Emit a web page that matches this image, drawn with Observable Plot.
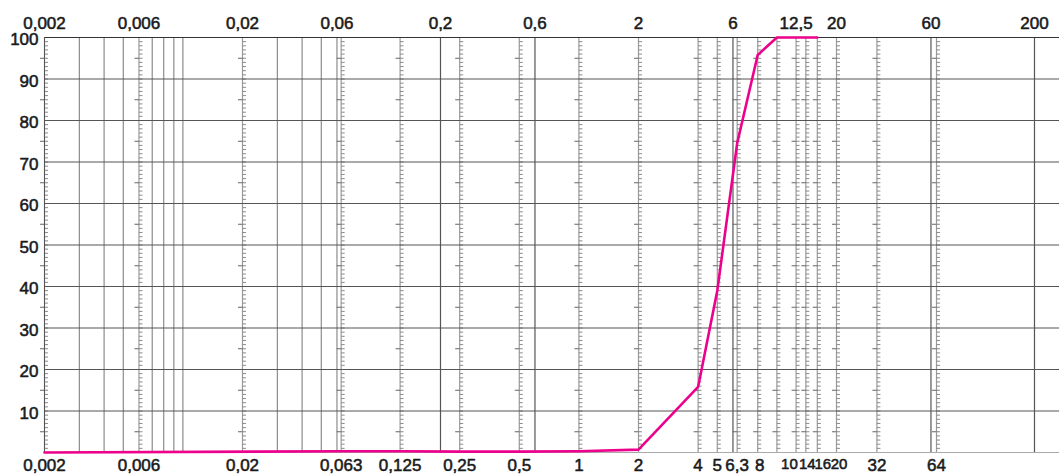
<!DOCTYPE html>
<html>
<head>
<meta charset="utf-8">
<script src="https://cdn.jsdelivr.net/npm/d3@7"></script>
<script src="https://cdn.jsdelivr.net/npm/@observablehq/plot@0.6"></script>
<style>
  html, body { margin: 0; padding: 0; background: #fff; }
  #chart svg { display: block; }
</style>
</head>
<body>
<div id="chart"></div>
<script>
// Grain size (mm) and percent passing
const sieveSizes = [0.002, 0.063, 0.125, 0.25, 0.5, 1, 2, 4, 5, 6.3, 8, 10, 12.5, 14, 16];
const passing    = [0,     0.3,   0.3,   0.2,  0.2, 0.3, 0.7, 15.8, 39, 74.5, 95.8, 100, 100, 100, 100];

// Vertical ruler lines (with percent scale ticks)
const rulerLines = [0.002, 0.006, 0.02, 0.063, 0.125, 0.25, 0.5, 1, 2, 4, 5, 6.3, 8, 10, 12.5, 14, 16, 20, 32, 64];
// Plain vertical lines
const plainLines = [0.003, 0.004, 0.005, 0.007, 0.008, 0.009, 0.01, 0.03, 0.04, 0.05, 0.06];
const mainLines  = [0.2, 0.6, 6, 60, 200];

// Tick labels
const topLabels    = [0.002, 0.006, 0.02, 0.06, 0.2, 0.6, 2, 6, 12.5, 20, 60, 200];
const bottomLabels = [0.002, 0.006, 0.02, 0.063, 0.125, 0.25, 0.5, 1, 2, 4, 5, 6.3, 8, 10, 14, 16, 20, 32, 64];
const yLabels      = [10, 20, 30, 40, 50, 60, 70, 80, 90, 100];
const yGrid        = [10, 20, 30, 40, 50, 60, 70, 80, 90];
const minorUnits   = d3.range(1, 100);
const halfUnits    = [5, 15, 25, 35, 45, 55, 65, 75, 85, 95];

// label nudges (px) and sizes where the bottom labels are packed together
const bottomNudge = {8: 2, 10: 12.5, 14: 1.5, 16: 5.5, 20: 2.5};
const packedSize  = {10: 15, 14: 15, 16: 15, 20: 15};

const fmt = d => String(d).replace(".", ",");
const curve = sieveSizes.map((s, i) => ({size: s, pct: passing[i]}));

const rightTicks = rulerLines.flatMap(s => minorUnits.map(v => ({s, v})));
const leftTicks  = rulerLines.flatMap(s => halfUnits.map(v => ({s, v})));

const rightTick = {draw(ctx) { ctx.moveTo(0, 0); ctx.lineTo(3.5, 0); }};
const leftTick  = {draw(ctx) { ctx.moveTo(0, 0); ctx.lineTo(-4.5, 0); }};

const font = "'Liberation Sans', Arial, Helvetica, sans-serif";
const textStyle = {fontSize: 17, fill: "#1a1a1a", stroke: "#1a1a1a", strokeWidth: 0.55};

const plainBottom = bottomLabels.filter(d => !(d in bottomNudge));
const nudgedMarks = bottomLabels.filter(d => d in bottomNudge).map(k =>
  Plot.text([k], {x: d => d, frameAnchor: "bottom", text: fmt, lineAnchor: "top", dy: 6, dx: bottomNudge[k],
    ...textStyle, fontSize: packedSize[k] || 17})
);

const chart = Plot.plot({
  width: 1059,
  height: 474,
  marginLeft: 44,
  marginRight: 0,
  marginTop: 37,
  marginBottom: 22,
  style: {fontFamily: font, fontSize: "17px", background: "#fff", color: "#222"},
  x: {type: "log", domain: [0.002, 267.5], axis: null},
  y: {domain: [0, 100], axis: null},
  marks: [
    Plot.ruleX(plainLines, {stroke: "#8c8c8c", strokeWidth: 1.2}),
    Plot.ruleX(mainLines, {stroke: "#555", strokeWidth: 1.2}),
    Plot.ruleX(rulerLines, {stroke: "#9a9a9a", strokeWidth: 1.2}),
    Plot.dot(rightTicks, {x: "s", y: "v", symbol: rightTick, r: 1, fill: "none", stroke: "#8a8a8a", strokeWidth: 1}),
    Plot.dot(leftTicks, {x: "s", y: "v", symbol: leftTick, r: 1, fill: "none", stroke: "#666", strokeWidth: 1}),
    Plot.ruleY(yGrid, {stroke: "#555", strokeWidth: 1}),
    Plot.ruleY([100], {stroke: "#333", strokeWidth: 1.2}),
    Plot.ruleY([0], {stroke: "#aaa", strokeWidth: 1}),
    Plot.ruleX([0.002], {stroke: "#555", strokeWidth: 1}),
    Plot.line(curve, {x: "size", y: "pct", stroke: "#ec008c", strokeWidth: 2.6}),
    Plot.text(yLabels, {x: 0.002, y: d => d, text: d => String(d), textAnchor: "end", dx: -6, dy: 2.5, ...textStyle}),
    Plot.text(topLabels, {x: d => d, frameAnchor: "top", text: fmt, lineAnchor: "bottom", dy: -9, ...textStyle}),
    Plot.text(plainBottom, {x: d => d, frameAnchor: "bottom", text: fmt, lineAnchor: "top", dy: 6, ...textStyle}),
    ...nudgedMarks
  ]
});
document.getElementById("chart").appendChild(chart);
</script>
</body>
</html>
